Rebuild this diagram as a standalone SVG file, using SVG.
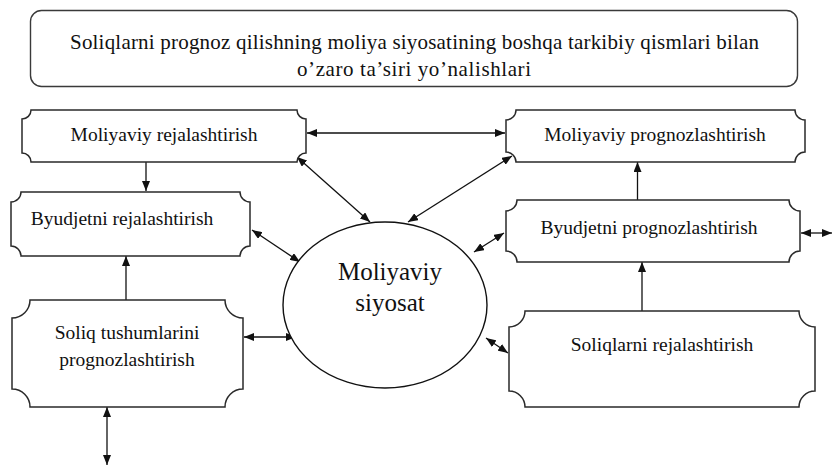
<svg xmlns="http://www.w3.org/2000/svg" width="832" height="467" viewBox="0 0 832 467">
  <style>
    .plaque { fill: #ffffff; stroke: #2a2a2a; stroke-width: 1.5; }
    .title-box { fill: #ffffff; stroke: #3a3a3a; stroke-width: 1.4; }
    text { font-family: "Liberation Serif", "DejaVu Serif", serif; fill: #111111; text-anchor: middle; }
    .label { font-size: 19.5px; }
    .heading { font-size: 21px; }
    .center-label { font-size: 25px; }
    .link { stroke: #111111; stroke-width: 1.3; fill: none; }
    .both { marker-start: url(#head); marker-end: url(#head); }
    .one { marker-end: url(#head); }
  </style>
  <defs>
    <marker id="head" viewBox="0 0 10 8" refX="10" refY="4" markerWidth="10" markerHeight="8" markerUnits="userSpaceOnUse" orient="auto-start-reverse">
      <path d="M0,0 L10,4 L0,8 Z" fill="#111111"/>
    </marker>
  </defs>

  <rect width="832" height="467" fill="#ffffff"/>

  <!-- heading -->
  <g id="title">
    <rect class="title-box" x="30.5" y="10.5" width="767" height="76" rx="11" ry="11"/>
    <text class="heading" x="414.5" y="49" textLength="689" lengthAdjust="spacing">Soliqlarni prognoz qilishning moliya siyosatining boshqa tarkibiy qismlari bilan</text>
    <text class="heading" x="414" y="76" textLength="234" lengthAdjust="spacing">o’zaro ta’siri yo’nalishlari</text>
  </g>

  <!-- connectors -->
  <g id="connectors">
    <line class="link both" x1="307" y1="133" x2="505" y2="133"/>
    <line class="link both" x1="297" y1="157" x2="370" y2="222"/>
    <line class="link both" x1="512" y1="156" x2="408" y2="222"/>
    <line class="link one" x1="146" y1="162" x2="146" y2="191"/>
    <line class="link both" x1="252" y1="230" x2="300" y2="262"/>
    <line class="link both" x1="504" y1="233" x2="474" y2="252"/>
    <line class="link both" x1="801" y1="233" x2="832" y2="233"/>
    <line class="link one" x1="642" y1="311" x2="642" y2="262"/>
    <line class="link one" x1="637.5" y1="200" x2="637.5" y2="162"/>
    <line class="link one" x1="126" y1="300" x2="126" y2="256"/>
    <line class="link both" x1="244" y1="337" x2="296" y2="337"/>
    <line class="link both" x1="107" y1="407" x2="107" y2="465"/>
    <line class="link both" x1="486" y1="338" x2="508" y2="353"/>
  </g>

  <!-- Moliyaviy rejalashtirish -->
  <g id="moliyaviy-rejalashtirish">
    <path class="plaque" d="M31,110 L297,110 A9,9 0 0 0 306,119 L306,153 A9,9 0 0 0 297,162 L31,162 A9,9 0 0 0 22,153 L22,119 A9,9 0 0 0 31,110 Z"/>
    <text class="label" x="164" y="141">Moliyaviy rejalashtirish</text>
  </g>

  <!-- Moliyaviy prognozlashtirish -->
  <g id="moliyaviy-prognozlashtirish">
    <path class="plaque" d="M516,110 L795,110 A10,10 0 0 0 805,120 L805,152 A10,10 0 0 0 795,162 L516,162 A10,10 0 0 0 506,152 L506,120 A10,10 0 0 0 516,110 Z"/>
    <text class="label" x="655" y="141">Moliyaviy  prognozlashtirish</text>
  </g>

  <!-- Byudjetni rejalashtirish -->
  <g id="byudjetni-rejalashtirish">
    <path class="plaque" d="M21,192 L240,192 A10,10 0 0 0 250,202 L250,246 A10,10 0 0 0 240,256 L21,256 A10,10 0 0 0 11,246 L11,202 A10,10 0 0 0 21,192 Z"/>
    <text class="label" x="122" y="225">Byudjetni rejalashtirish</text>
  </g>

  <!-- Byudjetni prognozlashtirish -->
  <g id="byudjetni-prognozlashtirish">
    <path class="plaque" d="M517,200 L789,200 A11,11 0 0 0 800,211 L800,251 A11,11 0 0 0 789,262 L517,262 A11,11 0 0 0 506,251 L506,211 A11,11 0 0 0 517,200 Z"/>
    <text class="label" x="649" y="234">Byudjetni prognozlashtirish</text>
  </g>

  <!-- Soliq tushumlarini prognozlashtirish -->
  <g id="soliq-tushumlarini-prognozlashtirish">
    <path class="plaque" d="M30,300 L225,300 A18,18 0 0 0 243,318 L243,389 A18,18 0 0 0 225,407 L30,407 A18,18 0 0 0 12,389 L12,318 A18,18 0 0 0 30,300 Z"/>
    <text class="label" x="127" y="339">Soliq tushumlarini</text>
    <text class="label" x="127" y="366">prognozlashtirish</text>
  </g>

  <!-- Soliqlarni rejalashtirish -->
  <g id="soliqlarni-rejalashtirish">
    <path class="plaque" d="M525,311 L799,311 A16,16 0 0 0 815,327 L815,391 A16,16 0 0 0 799,407 L525,407 A16,16 0 0 0 509,391 L509,327 A16,16 0 0 0 525,311 Z"/>
    <text class="label" x="662" y="351">Soliqlarni rejalashtirish</text>
  </g>

  <!-- Moliyaviy siyosat -->
  <g id="moliyaviy-siyosat">
    <ellipse cx="385" cy="305" rx="102" ry="83" fill="#ffffff" stroke="#111111" stroke-width="1.4"/>
    <text class="center-label" x="390" y="280">Moliyaviy</text>
    <text class="center-label" x="390" y="311">siyosat</text>
  </g>
</svg>
